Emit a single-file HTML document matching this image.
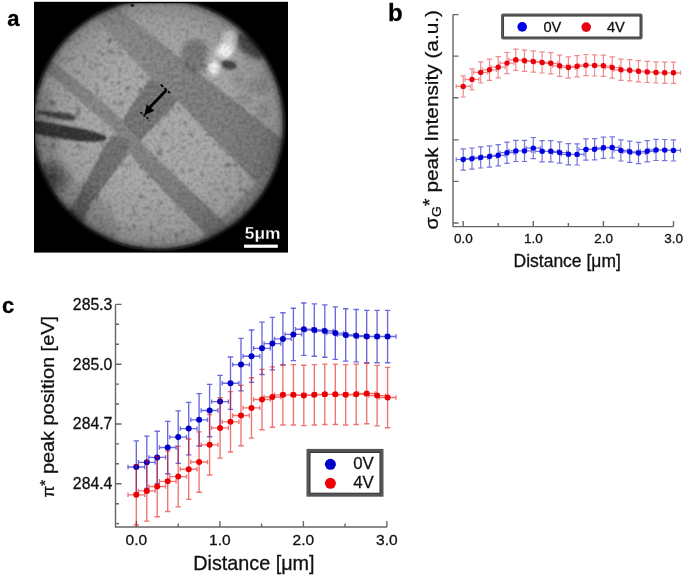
<!DOCTYPE html>
<html><head><meta charset="utf-8"><style>
html,body{margin:0;padding:0;background:#fff;width:685px;height:577px;overflow:hidden}
svg{display:block;will-change:transform}
text{font-family:"Liberation Sans",sans-serif;stroke:#111;stroke-width:0.3px}
</style></head><body>
<svg width="685" height="577" viewBox="0 0 685 577">
<rect width="685" height="577" fill="#fff"/>
<defs>
<clipPath id="sqc"><rect x="35" y="3.2" width="252" height="248.5"/></clipPath>
<filter id="mblur" x="-10%" y="-10%" width="120%" height="120%"><feGaussianBlur stdDeviation="1.4"/></filter>
<mask id="circ" maskUnits="userSpaceOnUse" x="0" y="-10" width="300" height="270"><circle cx="158.4" cy="123.9" r="125.3" fill="#fff" filter="url(#mblur)"/></mask>
<radialGradient id="vig" cx="158.4" cy="123.9" r="126" gradientUnits="userSpaceOnUse">
<stop offset="0.5" stop-color="#000" stop-opacity="0"/>
<stop offset="0.82" stop-color="#000" stop-opacity="0.08"/>
<stop offset="0.94" stop-color="#000" stop-opacity="0.18"/>
<stop offset="0.985" stop-color="#000" stop-opacity="0.4"/>
<stop offset="1" stop-color="#000" stop-opacity="0.6"/>
</radialGradient>
<radialGradient id="glare" cx="0.5" cy="0.5" r="0.5">
<stop offset="0" stop-color="#fff" stop-opacity="1"/>
<stop offset="0.5" stop-color="#fff" stop-opacity="0.85"/>
<stop offset="1" stop-color="#fff" stop-opacity="0"/>
</radialGradient>
<radialGradient id="dblob" cx="0.5" cy="0.5" r="0.5">
<stop offset="0" stop-color="#000" stop-opacity="0.5"/>
<stop offset="0.6" stop-color="#000" stop-opacity="0.3"/>
<stop offset="1" stop-color="#000" stop-opacity="0"/>
</radialGradient>
<linearGradient id="bugrad" x1="100" y1="5" x2="190" y2="95" gradientUnits="userSpaceOnUse">
<stop offset="0" stop-color="#979797"/><stop offset="0.6" stop-color="#848484"/><stop offset="1" stop-color="#7c7c7c"/>
</linearGradient>
<linearGradient id="blgrad" x1="40" y1="50" x2="220" y2="220" gradientUnits="userSpaceOnUse">
<stop offset="0" stop-color="#878787"/><stop offset="0.5" stop-color="#828282"/><stop offset="1" stop-color="#767676"/>
</linearGradient>
<filter id="bl1" x="-20%" y="-20%" width="140%" height="140%"><feGaussianBlur stdDeviation="1.3"/></filter>
<filter id="bl2" x="-50%" y="-50%" width="200%" height="200%"><feGaussianBlur stdDeviation="3"/></filter>
<filter id="bl3" x="-50%" y="-50%" width="200%" height="200%"><feGaussianBlur stdDeviation="2"/></filter>
<filter id="grain" x="0" y="0" width="100%" height="100%">
<feTurbulence type="fractalNoise" baseFrequency="0.28" numOctaves="2" seed="5"/>
<feColorMatrix type="matrix" values="0 0 0 0 0  0 0 0 0 0  0 0 0 0 0  -3 0 0 0 1.5"/><feGaussianBlur stdDeviation="0.7"/>
</filter>
<filter id="grainw" x="0" y="0" width="100%" height="100%">
<feTurbulence type="fractalNoise" baseFrequency="0.28" numOctaves="2" seed="5"/>
<feColorMatrix type="matrix" values="0 0 0 0 1  0 0 0 0 1  0 0 0 0 1  3 0 0 0 -1.5"/><feGaussianBlur stdDeviation="0.7"/>
</filter>
<filter id="speck" x="0" y="0" width="100%" height="100%">
<feTurbulence type="fractalNoise" baseFrequency="0.16" numOctaves="2" seed="11" result="t"/>
<feColorMatrix in="t" type="matrix" values="0 0 0 0 0  0 0 0 0 0  0 0 0 0 0  -7 0 0 0 2.5" result="a"/>
<feComponentTransfer in="a"><feFuncA type="linear" slope="1" intercept="0"/></feComponentTransfer>
<feGaussianBlur stdDeviation="0.9"/>
</filter>
</defs>
<rect x="34" y="1.8" width="254" height="250.8" fill="#000"/>
<g clip-path="url(#sqc)"><g mask="url(#circ)">
<rect x="30" y="0" width="260" height="252" fill="#a5a5a5"/>
<!-- speckles in light areas (drawn before bands so bands cover them) -->
<rect x="34" y="2" width="254" height="250" filter="url(#speck)" opacity="0.3"/>
<g filter="url(#bl1)">
<!-- T region (above BU) -->
<polygon points="118,8 283.5,140 300,150 300,-5 118,-5" fill="#a6a6a6"/>
<!-- BU band -->
<polygon points="85,-5 110,-5 118,8 283.5,140 300,152 300,240 266,193 177.6,101.1 150.8,77.7 130,56 106.3,29.2 95,16" fill="url(#bugrad)"/>
<!-- U2 end band -->
<polygon points="278,161 200,239.5 260,300 330,230" fill="#8a8a8a"/>
<!-- BL band -->
<polygon points="25,42 58.8,66 110,107.5 122,120 135,133 145.7,147.6 222,220.1 265,260 240,260 206.7,235.3 140,166.7 125,146 110.5,127.3 48.6,73.5 25,55" fill="url(#blgrad)"/>
<!-- dark rect -->
<polygon points="150.8,77.7 177.6,101.1 167.9,112 150,130.4 140,141 124,124 122.5,120.4 133,103.3" fill="#727272"/>
<!-- U1 band -->
<polygon points="103.7,147.3 112,135 130,140 126.3,156 91.6,202.8 75,240 45,240 74.3,202.8" fill="#6e6e6e"/>
</g>
<!-- lower-left dark zone -->
<ellipse cx="54" cy="176" rx="19" ry="18" fill="url(#dblob)" filter="url(#bl2)"/>
<ellipse cx="45" cy="150" rx="14" ry="60" fill="#000" opacity="0.12" filter="url(#bl2)"/>
<ellipse cx="50" cy="225" rx="30" ry="20" fill="#000" opacity="0.18" filter="url(#bl2)"/>
<!-- T region blobs -->
<ellipse cx="196" cy="56" rx="14" ry="17" transform="rotate(-20 196 56)" fill="#000" opacity="0.27" filter="url(#bl3)"/>
<ellipse cx="250" cy="46" rx="17" ry="9" transform="rotate(40 250 46)" fill="#000" opacity="0.5" filter="url(#bl3)"/>
<ellipse cx="229" cy="65" rx="8" ry="4.5" transform="rotate(15 229 65)" fill="#000" opacity="0.55" filter="url(#bl1)"/>
<ellipse cx="258" cy="86" rx="12" ry="9" fill="#000" opacity="0.12" filter="url(#bl3)"/>
<ellipse cx="244" cy="100" rx="9" ry="7" fill="#000" opacity="0.1" filter="url(#bl3)"/>
<ellipse cx="262" cy="112" rx="7" ry="10" fill="#000" opacity="0.1" filter="url(#bl3)"/>
<ellipse cx="240" cy="80" rx="6" ry="8" fill="#000" opacity="0.1" filter="url(#bl3)"/>
<ellipse cx="270" cy="70" rx="6" ry="9" fill="#000" opacity="0.08" filter="url(#bl3)"/>
<!-- glare -->
<ellipse cx="229" cy="40" rx="11" ry="14" fill="url(#glare)" opacity="0.5"/>
<ellipse cx="225" cy="51" rx="8.5" ry="7.5" fill="#fff" filter="url(#bl3)"/>
<ellipse cx="226" cy="50" rx="5" ry="4.5" fill="#fff" filter="url(#bl1)"/>
<ellipse cx="231" cy="39" rx="6" ry="9" fill="#fff" opacity="0.35" filter="url(#bl3)"/>
<ellipse cx="214" cy="68" rx="5" ry="7" fill="#fff" opacity="0.95" filter="url(#bl3)"/>
<ellipse cx="212" cy="60" rx="10" ry="14" fill="url(#glare)" opacity="0.25"/>
<!-- lower-left edge shading -->
<ellipse cx="75" cy="215" rx="48" ry="30" transform="rotate(40 75 215)" fill="#000" opacity="0.12" filter="url(#bl2)"/>
<!-- probe -->
<g filter="url(#bl1)">
<path d="M37 110.6 Q55 111.5 68 113.6 Q76.5 115.5 76 118.3 Q74.5 120.6 68 120.4 Q55 118.8 37 113.8 Z" fill="#454545"/>
<path d="M25 120 L34 120.6 Q60 124.5 85 129.5 Q102 133.5 106.5 137.5 Q107 140.5 100 141.6 Q80 142.5 60 138.6 Q45 136 34 133.5 L25 132 Z" fill="#353535"/>
</g>
<!-- grain -->
<rect x="34" y="2" width="254" height="250" filter="url(#grain)" opacity="0.13"/>
<rect x="34" y="2" width="254" height="250" filter="url(#grainw)" opacity="0.1"/>
<circle cx="158.4" cy="123.9" r="126" fill="url(#vig)"/>
<circle cx="132.3" cy="5.3" r="1.8" fill="#222"/>
</g></g>
<!-- arrow -->
<g stroke="#000" fill="none">
<path d="M160.7 84.5 L170 93.2" stroke-width="1.8" stroke-dasharray="3.5 1.5"/>
<path d="M140.4 112.3 L150.3 120.5" stroke-width="1.4" stroke-dasharray="2.5 1.5"/>
<path d="M166 90.6 L149.2 108" stroke-width="2.9"/>
</g>
<polygon points="144.3,115.3 146.6,104.6 154.5,110.8" fill="#000"/>
<!-- scale bar -->
<text x="244.8" y="238.6" font-size="17.4" font-weight="bold" fill="#fff" stroke="#fff" stroke-width="0.2">5μm</text>
<rect x="244" y="244.6" width="33.8" height="3.2" fill="#fff"/>

<text x="7.2" y="25.7" font-size="22" font-weight="bold" fill="#000">a</text>
<text x="388" y="21" font-size="24" font-weight="bold" fill="#000">b</text>
<text x="2" y="313.2" font-size="22" font-weight="bold" fill="#000">c</text>
<path d="M453 14.6V226.6H673.5M453 14.6H458.5M453 56.1H458.5M453 97.7H458.5M453 139.9H458.5M453 181.4H458.5M453 223.0H458.5M463.2 226.6V221.1M498.2 226.6V223.1M533.3 226.6V221.1M568.4 226.6V223.1M603.4 226.6V221.1M638.5 226.6V223.1M673.5 226.6V221.1" fill="none" stroke="#666" stroke-width="1.4"/>
<text x="463.4" y="242.6" font-size="13.5" text-anchor="middle" fill="#111">0.0</text>
<text x="533.5" y="242.6" font-size="13.5" text-anchor="middle" fill="#111">1.0</text>
<text x="603.6" y="242.6" font-size="13.5" text-anchor="middle" fill="#111">2.0</text>
<text x="673.7" y="242.6" font-size="13.5" text-anchor="middle" fill="#111">3.0</text>
<text x="567.2" y="267" font-size="17.5" text-anchor="middle" fill="#111">Distance [μm]</text>
<text transform="translate(437.6 229.4) rotate(-90) scale(1 0.91)" font-size="20" fill="#111">σ<tspan font-size="14" dy="4">G</tspan><tspan font-size="20" dy="-5.5">*</tspan><tspan font-size="20.8" dy="1.5"> peak Intensity (a.u.)</tspan></text>
<path d="M463.2 75.8V97.0M460.5 75.8H465.9M460.5 97.0H465.9M456.2 86.4H470.2M456.2 84.2V88.6M470.2 84.2V88.6M472.0 68.8V90.0M469.3 68.8H474.7M469.3 90.0H474.7M465.0 79.4H479.0M465.0 77.2V81.6M479.0 77.2V81.6M480.7 61.8V83.0M478.0 61.8H483.4M478.0 83.0H483.4M473.7 72.4H487.7M473.7 70.2V74.6M487.7 70.2V74.6M489.5 59.2V80.4M486.8 59.2H492.2M486.8 80.4H492.2M482.5 69.8H496.5M482.5 67.6V72.0M496.5 67.6V72.0M498.2 56.6V77.8M495.6 56.6H500.9M495.6 77.8H500.9M491.2 67.2H505.2M491.2 65.0V69.4M505.2 65.0V69.4M507.0 52.5V73.7M504.3 52.5H509.7M504.3 73.7H509.7M500.0 63.1H514.0M500.0 60.9V65.3M514.0 60.9V65.3M515.8 49.2V70.4M513.1 49.2H518.5M513.1 70.4H518.5M508.8 59.8H522.8M508.8 57.6V62.0M522.8 57.6V62.0M524.5 50.1V71.3M521.8 50.1H527.2M521.8 71.3H527.2M517.5 60.7H531.5M517.5 58.5V62.9M531.5 58.5V62.9M533.3 50.9V72.1M530.6 50.9H536.0M530.6 72.1H536.0M526.3 61.5H540.3M526.3 59.3V63.7M540.3 59.3V63.7M542.1 51.8V73.0M539.4 51.8H544.8M539.4 73.0H544.8M535.1 62.4H549.1M535.1 60.2V64.6M549.1 60.2V64.6M550.8 52.7V73.9M548.1 52.7H553.5M548.1 73.9H553.5M543.8 63.3H557.8M543.8 61.1V65.5M557.8 61.1V65.5M559.6 55.2V76.4M556.9 55.2H562.3M556.9 76.4H562.3M552.6 65.8H566.6M552.6 63.6V68.0M566.6 63.6V68.0M568.4 56.9V78.1M565.6 56.9H571.1M565.6 78.1H571.1M561.4 67.5H575.4M561.4 65.3V69.7M575.4 65.3V69.7M577.1 55.7V76.9M574.4 55.7H579.8M574.4 76.9H579.8M570.1 66.3H584.1M570.1 64.1V68.5M584.1 64.1V68.5M585.9 54.5V75.7M583.2 54.5H588.6M583.2 75.7H588.6M578.9 65.1H592.9M578.9 62.9V67.3M592.9 62.9V67.3M594.6 54.8V76.0M591.9 54.8H597.3M591.9 76.0H597.3M587.6 65.4H601.6M587.6 63.2V67.6M601.6 63.2V67.6M603.4 55.2V76.4M600.7 55.2H606.1M600.7 76.4H606.1M596.4 65.8H610.4M596.4 63.6V68.0M610.4 63.6V68.0M612.2 56.9V78.1M609.5 56.9H614.9M609.5 78.1H614.9M605.2 67.5H619.2M605.2 65.3V69.7M619.2 65.3V69.7M620.9 59.2V80.4M618.2 59.2H623.6M618.2 80.4H623.6M613.9 69.8H627.9M613.9 67.6V72.0M627.9 67.6V72.0M629.7 59.7V80.9M627.0 59.7H632.4M627.0 80.9H632.4M622.7 70.3H636.7M622.7 68.1V72.5M636.7 68.1V72.5M638.5 60.6V81.8M635.8 60.6H641.2M635.8 81.8H641.2M631.5 71.2H645.5M631.5 69.0V73.4M645.5 69.0V73.4M647.2 61.3V82.5M644.5 61.3H649.9M644.5 82.5H649.9M640.2 71.9H654.2M640.2 69.7V74.1M654.2 69.7V74.1M656.0 61.8V83.0M653.3 61.8H658.7M653.3 83.0H658.7M649.0 72.4H663.0M649.0 70.2V74.6M663.0 70.2V74.6M664.7 62.2V83.4M662.0 62.2H667.4M662.0 83.4H667.4M657.7 72.8H671.7M657.7 70.6V75.0M671.7 70.6V75.0M673.5 62.2V83.4M670.8 62.2H676.2M670.8 83.4H676.2M666.5 72.8H680.5M666.5 70.6V75.0M680.5 70.6V75.0" fill="none" stroke="#f08a8e" stroke-opacity="1" stroke-width="1.2"/>
<circle cx="463.2" cy="86.4" r="2.7" fill="#ea000c"/>
<circle cx="472.0" cy="79.4" r="2.7" fill="#ea000c"/>
<circle cx="480.7" cy="72.4" r="2.7" fill="#ea000c"/>
<circle cx="489.5" cy="69.8" r="2.7" fill="#ea000c"/>
<circle cx="498.2" cy="67.2" r="2.7" fill="#ea000c"/>
<circle cx="507.0" cy="63.1" r="2.7" fill="#ea000c"/>
<circle cx="515.8" cy="59.8" r="2.7" fill="#ea000c"/>
<circle cx="524.5" cy="60.7" r="2.7" fill="#ea000c"/>
<circle cx="533.3" cy="61.5" r="2.7" fill="#ea000c"/>
<circle cx="542.1" cy="62.4" r="2.7" fill="#ea000c"/>
<circle cx="550.8" cy="63.3" r="2.7" fill="#ea000c"/>
<circle cx="559.6" cy="65.8" r="2.7" fill="#ea000c"/>
<circle cx="568.4" cy="67.5" r="2.7" fill="#ea000c"/>
<circle cx="577.1" cy="66.3" r="2.7" fill="#ea000c"/>
<circle cx="585.9" cy="65.1" r="2.7" fill="#ea000c"/>
<circle cx="594.6" cy="65.4" r="2.7" fill="#ea000c"/>
<circle cx="603.4" cy="65.8" r="2.7" fill="#ea000c"/>
<circle cx="612.2" cy="67.5" r="2.7" fill="#ea000c"/>
<circle cx="620.9" cy="69.8" r="2.7" fill="#ea000c"/>
<circle cx="629.7" cy="70.3" r="2.7" fill="#ea000c"/>
<circle cx="638.5" cy="71.2" r="2.7" fill="#ea000c"/>
<circle cx="647.2" cy="71.9" r="2.7" fill="#ea000c"/>
<circle cx="656.0" cy="72.4" r="2.7" fill="#ea000c"/>
<circle cx="664.7" cy="72.8" r="2.7" fill="#ea000c"/>
<circle cx="673.5" cy="72.8" r="2.7" fill="#ea000c"/>
<path d="M463.2 148.9V170.1M460.5 148.9H465.9M460.5 170.1H465.9M456.2 159.5H470.2M456.2 157.3V161.7M470.2 157.3V161.7M472.0 148.0V169.2M469.3 148.0H474.7M469.3 169.2H474.7M465.0 158.6H479.0M465.0 156.4V160.8M479.0 156.4V160.8M480.7 146.8V168.0M478.0 146.8H483.4M478.0 168.0H483.4M473.7 157.4H487.7M473.7 155.2V159.6M487.7 155.2V159.6M489.5 145.9V167.1M486.8 145.9H492.2M486.8 167.1H492.2M482.5 156.5H496.5M482.5 154.3V158.7M496.5 154.3V158.7M498.2 144.7V165.9M495.6 144.7H500.9M495.6 165.9H500.9M491.2 155.3H505.2M491.2 153.1V157.5M505.2 153.1V157.5M507.0 142.1V163.3M504.3 142.1H509.7M504.3 163.3H509.7M500.0 152.7H514.0M500.0 150.5V154.9M514.0 150.5V154.9M515.8 140.3V161.5M513.1 140.3H518.5M513.1 161.5H518.5M508.8 150.9H522.8M508.8 148.7V153.1M522.8 148.7V153.1M524.5 140.3V161.5M521.8 140.3H527.2M521.8 161.5H527.2M517.5 150.9H531.5M517.5 148.7V153.1M531.5 148.7V153.1M533.3 137.5V158.7M530.6 137.5H536.0M530.6 158.7H536.0M526.3 148.1H540.3M526.3 145.9V150.3M540.3 145.9V150.3M542.1 140.7V161.9M539.4 140.7H544.8M539.4 161.9H544.8M535.1 151.3H549.1M535.1 149.1V153.5M549.1 149.1V153.5M550.8 140.7V161.9M548.1 140.7H553.5M548.1 161.9H553.5M543.8 151.3H557.8M543.8 149.1V153.5M557.8 149.1V153.5M559.6 141.9V163.1M556.9 141.9H562.3M556.9 163.1H562.3M552.6 152.5H566.6M552.6 150.3V154.7M566.6 150.3V154.7M568.4 143.7V164.9M565.6 143.7H571.1M565.6 164.9H571.1M561.4 154.3H575.4M561.4 152.1V156.5M575.4 152.1V156.5M577.1 143.8V165.0M574.4 143.8H579.8M574.4 165.0H579.8M570.1 154.4H584.1M570.1 152.2V156.6M584.1 152.2V156.6M585.9 138.9V160.1M583.2 138.9H588.6M583.2 160.1H588.6M578.9 149.5H592.9M578.9 147.3V151.7M592.9 147.3V151.7M594.6 138.6V159.8M591.9 138.6H597.3M591.9 159.8H597.3M587.6 149.2H601.6M587.6 147.0V151.4M601.6 147.0V151.4M603.4 137.2V158.4M600.7 137.2H606.1M600.7 158.4H606.1M596.4 147.8H610.4M596.4 145.6V150.0M610.4 145.6V150.0M612.2 136.8V158.0M609.5 136.8H614.9M609.5 158.0H614.9M605.2 147.4H619.2M605.2 145.2V149.6M619.2 145.2V149.6M620.9 139.8V161.0M618.2 139.8H623.6M618.2 161.0H623.6M613.9 150.4H627.9M613.9 148.2V152.6M627.9 148.2V152.6M629.7 141.2V162.4M627.0 141.2H632.4M627.0 162.4H632.4M622.7 151.8H636.7M622.7 149.6V154.0M636.7 149.6V154.0M638.5 142.4V163.6M635.8 142.4H641.2M635.8 163.6H641.2M631.5 153.0H645.5M631.5 150.8V155.2M645.5 150.8V155.2M647.2 140.7V161.9M644.5 140.7H649.9M644.5 161.9H649.9M640.2 151.3H654.2M640.2 149.1V153.5M654.2 149.1V153.5M656.0 139.3V160.5M653.3 139.3H658.7M653.3 160.5H658.7M649.0 149.9H663.0M649.0 147.7V152.1M663.0 147.7V152.1M664.7 139.5V160.7M662.0 139.5H667.4M662.0 160.7H667.4M657.7 150.1H671.7M657.7 147.9V152.3M671.7 147.9V152.3M673.5 139.8V161.0M670.8 139.8H676.2M670.8 161.0H676.2M666.5 150.4H680.5M666.5 148.2V152.6M680.5 148.2V152.6" fill="none" stroke="#7474dc" stroke-opacity="1" stroke-width="1.2"/>
<circle cx="463.2" cy="159.5" r="2.7" fill="#0000e4"/>
<circle cx="472.0" cy="158.6" r="2.7" fill="#0000e4"/>
<circle cx="480.7" cy="157.4" r="2.7" fill="#0000e4"/>
<circle cx="489.5" cy="156.5" r="2.7" fill="#0000e4"/>
<circle cx="498.2" cy="155.3" r="2.7" fill="#0000e4"/>
<circle cx="507.0" cy="152.7" r="2.7" fill="#0000e4"/>
<circle cx="515.8" cy="150.9" r="2.7" fill="#0000e4"/>
<circle cx="524.5" cy="150.9" r="2.7" fill="#0000e4"/>
<circle cx="533.3" cy="148.1" r="2.7" fill="#0000e4"/>
<circle cx="542.1" cy="151.3" r="2.7" fill="#0000e4"/>
<circle cx="550.8" cy="151.3" r="2.7" fill="#0000e4"/>
<circle cx="559.6" cy="152.5" r="2.7" fill="#0000e4"/>
<circle cx="568.4" cy="154.3" r="2.7" fill="#0000e4"/>
<circle cx="577.1" cy="154.4" r="2.7" fill="#0000e4"/>
<circle cx="585.9" cy="149.5" r="2.7" fill="#0000e4"/>
<circle cx="594.6" cy="149.2" r="2.7" fill="#0000e4"/>
<circle cx="603.4" cy="147.8" r="2.7" fill="#0000e4"/>
<circle cx="612.2" cy="147.4" r="2.7" fill="#0000e4"/>
<circle cx="620.9" cy="150.4" r="2.7" fill="#0000e4"/>
<circle cx="629.7" cy="151.8" r="2.7" fill="#0000e4"/>
<circle cx="638.5" cy="153.0" r="2.7" fill="#0000e4"/>
<circle cx="647.2" cy="151.3" r="2.7" fill="#0000e4"/>
<circle cx="656.0" cy="149.9" r="2.7" fill="#0000e4"/>
<circle cx="664.7" cy="150.1" r="2.7" fill="#0000e4"/>
<circle cx="673.5" cy="150.4" r="2.7" fill="#0000e4"/>
<rect x="502.3" y="14.8" width="139" height="23.5" rx="0.8" fill="#fff" stroke="#5a5a5a" stroke-width="2.6"/>
<rect x="503.6" y="16.1" width="136.4" height="20.9" fill="none" stroke="#333" stroke-width="0.9"/>
<circle cx="522.2" cy="26.9" r="4.8" fill="#0000e6"/><circle cx="586.2" cy="27.1" r="4.8" fill="#e60012"/>
<text x="543.4" y="31.7" font-size="14.6" fill="#111">0V</text><text x="607" y="31.7" font-size="14.6" fill="#111">4V</text>
<path d="M115.5 304.4V527H387M115.5 304.4H121.5M115.5 324.3H119.0M115.5 344.3H119.0M115.5 364.2H121.5M115.5 384.1H119.0M115.5 404.0H119.0M115.5 424.0H121.5M115.5 443.9H119.0M115.5 463.8H119.0M115.5 483.8H121.5M115.5 503.7H119.0M115.5 523.6H119.0M136.4 527V521M178.2 527V523.5M219.9 527V521M261.6 527V523.5M303.4 527V521M345.1 527V523.5M386.9 527V521" fill="none" stroke="#666" stroke-width="1.4"/>
<text x="112.4" y="309.7" font-size="15.8" text-anchor="end" fill="#111">285.3</text>
<text x="112.4" y="369.5" font-size="15.8" text-anchor="end" fill="#111">285.0</text>
<text x="112.4" y="429.3" font-size="15.8" text-anchor="end" fill="#111">284.7</text>
<text x="112.4" y="489.1" font-size="15.8" text-anchor="end" fill="#111">284.4</text>
<text x="136.4" y="544.8" font-size="15.5" text-anchor="middle" fill="#111">0.0</text>
<text x="219.9" y="544.8" font-size="15.5" text-anchor="middle" fill="#111">1.0</text>
<text x="303.4" y="544.8" font-size="15.5" text-anchor="middle" fill="#111">2.0</text>
<text x="386.9" y="544.8" font-size="15.5" text-anchor="middle" fill="#111">3.0</text>
<text x="253.9" y="570.2" font-size="19.8" text-anchor="middle" fill="#111">Distance [μm]</text>
<text transform="translate(54.3 497.6) rotate(-90) scale(1 0.92)" font-size="17" fill="#111">π<tspan font-size="16" dy="-5">*</tspan><tspan font-size="19.9" dy="5"> peak position [eV]</tspan></text>
<path d="M136.3 440.8V493.2M133.6 440.8H139.0M133.6 493.2H139.0M128.0 467.0H144.7M128.0 464.8V469.2M144.7 464.8V469.2M146.8 436.1V488.5M144.1 436.1H149.5M144.1 488.5H149.5M138.4 462.3H155.1M138.4 460.1V464.5M155.1 460.1V464.5M157.2 431.2V483.6M154.5 431.2H159.9M154.5 483.6H159.9M148.9 457.4H165.6M148.9 455.2V459.6M165.6 455.2V459.6M167.7 421.3V473.7M165.0 421.3H170.4M165.0 473.7H170.4M159.4 447.5H176.1M159.4 445.3V449.7M176.1 445.3V449.7M178.2 410.9V463.3M175.5 410.9H180.9M175.5 463.3H180.9M169.8 437.1H186.5M169.8 434.9V439.3M186.5 434.9V439.3M188.7 402.4V454.8M186.0 402.4H191.4M186.0 454.8H191.4M180.3 428.6H197.0M180.3 426.4V430.8M197.0 426.4V430.8M199.1 393.6V446.0M196.4 393.6H201.8M196.4 446.0H201.8M190.8 419.8H207.5M190.8 417.6V422.0M207.5 417.6V422.0M209.6 384.3V436.7M206.9 384.3H212.3M206.9 436.7H212.3M201.2 410.5H217.9M201.2 408.3V412.7M217.9 408.3V412.7M220.1 375.4V427.8M217.4 375.4H222.8M217.4 427.8H222.8M211.7 401.6H228.4M211.7 399.4V403.8M228.4 399.4V403.8M230.5 357.0V409.4M227.8 357.0H233.2M227.8 409.4H233.2M222.2 383.2H238.9M222.2 381.0V385.4M238.9 381.0V385.4M241.0 338.4V390.8M238.3 338.4H243.7M238.3 390.8H243.7M232.7 364.6H249.4M232.7 362.4V366.8M249.4 362.4V366.8M251.5 330.0V382.4M248.8 330.0H254.2M248.8 382.4H254.2M243.1 356.2H259.8M243.1 354.0V358.4M259.8 354.0V358.4M262.0 322.1V374.5M259.3 322.1H264.7M259.3 374.5H264.7M253.6 348.3H270.3M253.6 346.1V350.5M270.3 346.1V350.5M272.4 317.4V369.8M269.7 317.4H275.1M269.7 369.8H275.1M264.1 343.6H280.8M264.1 341.4V345.8M280.8 341.4V345.8M282.9 312.7V365.1M280.2 312.7H285.6M280.2 365.1H285.6M274.5 338.9H291.2M274.5 336.7V341.1M291.2 336.7V341.1M293.4 308.2V360.6M290.7 308.2H296.1M290.7 360.6H296.1M285.0 334.4H301.7M285.0 332.2V336.6M301.7 332.2V336.6M303.8 303.0V355.4M301.1 303.0H306.5M301.1 355.4H306.5M295.5 329.2H312.2M295.5 327.0V331.4M312.2 327.0V331.4M314.3 303.8V356.2M311.6 303.8H317.0M311.6 356.2H317.0M306.0 330.0H322.7M306.0 327.8V332.2M322.7 327.8V332.2M324.8 304.8V357.2M322.1 304.8H327.5M322.1 357.2H327.5M316.4 331.0H333.1M316.4 328.8V333.2M333.1 328.8V333.2M335.3 306.9V359.3M332.6 306.9H338.0M332.6 359.3H338.0M326.9 333.1H343.6M326.9 330.9V335.3M343.6 330.9V335.3M345.7 308.7V361.1M343.0 308.7H348.4M343.0 361.1H348.4M337.4 334.9H354.1M337.4 332.7V337.1M354.1 332.7V337.1M356.2 309.5V361.9M353.5 309.5H358.9M353.5 361.9H358.9M347.8 335.7H364.5M347.8 333.5V337.9M364.5 333.5V337.9M366.7 310.3V362.7M364.0 310.3H369.4M364.0 362.7H369.4M358.3 336.5H375.0M358.3 334.3V338.7M375.0 334.3V338.7M377.1 310.3V362.7M374.4 310.3H379.8M374.4 362.7H379.8M368.8 336.5H385.5M368.8 334.3V338.7M385.5 334.3V338.7M387.6 310.3V362.7M384.9 310.3H390.3M384.9 362.7H390.3M379.3 336.5H396.0M379.3 334.3V338.7M396.0 334.3V338.7" fill="none" stroke="#1a1ad0" stroke-opacity="0.65" stroke-width="1.35"/>
<circle cx="136.3" cy="467.0" r="3.0" fill="#0000c8"/>
<circle cx="146.8" cy="462.3" r="3.0" fill="#0000c8"/>
<circle cx="157.2" cy="457.4" r="3.0" fill="#0000c8"/>
<circle cx="167.7" cy="447.5" r="3.0" fill="#0000c8"/>
<circle cx="178.2" cy="437.1" r="3.0" fill="#0000c8"/>
<circle cx="188.7" cy="428.6" r="3.0" fill="#0000c8"/>
<circle cx="199.1" cy="419.8" r="3.0" fill="#0000c8"/>
<circle cx="209.6" cy="410.5" r="3.0" fill="#0000c8"/>
<circle cx="220.1" cy="401.6" r="3.0" fill="#0000c8"/>
<circle cx="230.5" cy="383.2" r="3.0" fill="#0000c8"/>
<circle cx="241.0" cy="364.6" r="3.0" fill="#0000c8"/>
<circle cx="251.5" cy="356.2" r="3.0" fill="#0000c8"/>
<circle cx="262.0" cy="348.3" r="3.0" fill="#0000c8"/>
<circle cx="272.4" cy="343.6" r="3.0" fill="#0000c8"/>
<circle cx="282.9" cy="338.9" r="3.0" fill="#0000c8"/>
<circle cx="293.4" cy="334.4" r="3.0" fill="#0000c8"/>
<circle cx="303.8" cy="329.2" r="3.0" fill="#0000c8"/>
<circle cx="314.3" cy="330.0" r="3.0" fill="#0000c8"/>
<circle cx="324.8" cy="331.0" r="3.0" fill="#0000c8"/>
<circle cx="335.3" cy="333.1" r="3.0" fill="#0000c8"/>
<circle cx="345.7" cy="334.9" r="3.0" fill="#0000c8"/>
<circle cx="356.2" cy="335.7" r="3.0" fill="#0000c8"/>
<circle cx="366.7" cy="336.5" r="3.0" fill="#0000c8"/>
<circle cx="377.1" cy="336.5" r="3.0" fill="#0000c8"/>
<circle cx="387.6" cy="336.5" r="3.0" fill="#0000c8"/>
<path d="M136.3 464.6V525.0M133.6 464.6H139.0M133.6 525.0H139.0M128.0 494.8H144.7M128.0 492.6V497.0M144.7 492.6V497.0M146.8 460.7V521.1M144.1 460.7H149.5M144.1 521.1H149.5M138.4 490.9H155.1M138.4 488.7V493.1M155.1 488.7V493.1M157.2 456.3V516.7M154.5 456.3H159.9M154.5 516.7H159.9M148.9 486.5H165.6M148.9 484.3V488.7M165.6 484.3V488.7M167.7 451.1V511.5M165.0 451.1H170.4M165.0 511.5H170.4M159.4 481.3H176.1M159.4 479.1V483.5M176.1 479.1V483.5M178.2 446.4V506.8M175.5 446.4H180.9M175.5 506.8H180.9M169.8 476.6H186.5M169.8 474.4V478.8M186.5 474.4V478.8M188.7 439.0V499.4M186.0 439.0H191.4M186.0 499.4H191.4M180.3 469.2H197.0M180.3 467.0V471.4M197.0 467.0V471.4M199.1 431.8V492.2M196.4 431.8H201.8M196.4 492.2H201.8M190.8 462.0H207.5M190.8 459.8V464.2M207.5 459.8V464.2M209.6 414.6V475.0M206.9 414.6H212.3M206.9 475.0H212.3M201.2 444.8H217.9M201.2 442.6V447.0M217.9 442.6V447.0M220.1 397.7V458.1M217.4 397.7H222.8M217.4 458.1H222.8M211.7 427.9H228.4M211.7 425.7V430.1M228.4 425.7V430.1M230.5 391.6V452.0M227.8 391.6H233.2M227.8 452.0H233.2M222.2 421.8H238.9M222.2 419.6V424.0M238.9 419.6V424.0M241.0 385.3V445.7M238.3 385.3H243.7M238.3 445.7H243.7M232.7 415.5H249.4M232.7 413.3V417.7M249.4 413.3V417.7M251.5 377.7V438.1M248.8 377.7H254.2M248.8 438.1H254.2M243.1 407.9H259.8M243.1 405.7V410.1M259.8 405.7V410.1M262.0 369.3V429.7M259.3 369.3H264.7M259.3 429.7H264.7M253.6 399.5H270.3M253.6 397.3V401.7M270.3 397.3V401.7M272.4 366.8V427.2M269.7 366.8H275.1M269.7 427.2H275.1M264.1 397.0H280.8M264.1 394.8V399.2M280.8 394.8V399.2M282.9 364.6V425.0M280.2 364.6H285.6M280.2 425.0H285.6M274.5 394.8H291.2M274.5 392.6V397.0M291.2 392.6V397.0M293.4 364.6V425.0M290.7 364.6H296.1M290.7 425.0H296.1M285.0 394.8H301.7M285.0 392.6V397.0M301.7 392.6V397.0M303.8 365.2V425.6M301.1 365.2H306.5M301.1 425.6H306.5M295.5 395.4H312.2M295.5 393.2V397.6M312.2 393.2V397.6M314.3 364.6V425.0M311.6 364.6H317.0M311.6 425.0H317.0M306.0 394.8H322.7M306.0 392.6V397.0M322.7 392.6V397.0M324.8 364.1V424.5M322.1 364.1H327.5M322.1 424.5H327.5M316.4 394.3H333.1M316.4 392.1V396.5M333.1 392.1V396.5M335.3 364.1V424.5M332.6 364.1H338.0M332.6 424.5H338.0M326.9 394.3H343.6M326.9 392.1V396.5M343.6 392.1V396.5M345.7 364.6V425.0M343.0 364.6H348.4M343.0 425.0H348.4M337.4 394.8H354.1M337.4 392.6V397.0M354.1 392.6V397.0M356.2 364.1V424.5M353.5 364.1H358.9M353.5 424.5H358.9M347.8 394.3H364.5M347.8 392.1V396.5M364.5 392.1V396.5M366.7 363.3V423.7M364.0 363.3H369.4M364.0 423.7H369.4M358.3 393.5H375.0M358.3 391.3V395.7M375.0 391.3V395.7M377.1 365.4V425.8M374.4 365.4H379.8M374.4 425.8H379.8M368.8 395.6H385.5M368.8 393.4V397.8M385.5 393.4V397.8M387.6 367.3V427.7M384.9 367.3H390.3M384.9 427.7H390.3M379.3 397.5H396.0M379.3 395.3V399.7M396.0 395.3V399.7" fill="none" stroke="#e00000" stroke-opacity="0.55" stroke-width="1.35"/>
<circle cx="136.3" cy="494.8" r="3.0" fill="#ee0000"/>
<circle cx="146.8" cy="490.9" r="3.0" fill="#ee0000"/>
<circle cx="157.2" cy="486.5" r="3.0" fill="#ee0000"/>
<circle cx="167.7" cy="481.3" r="3.0" fill="#ee0000"/>
<circle cx="178.2" cy="476.6" r="3.0" fill="#ee0000"/>
<circle cx="188.7" cy="469.2" r="3.0" fill="#ee0000"/>
<circle cx="199.1" cy="462.0" r="3.0" fill="#ee0000"/>
<circle cx="209.6" cy="444.8" r="3.0" fill="#ee0000"/>
<circle cx="220.1" cy="427.9" r="3.0" fill="#ee0000"/>
<circle cx="230.5" cy="421.8" r="3.0" fill="#ee0000"/>
<circle cx="241.0" cy="415.5" r="3.0" fill="#ee0000"/>
<circle cx="251.5" cy="407.9" r="3.0" fill="#ee0000"/>
<circle cx="262.0" cy="399.5" r="3.0" fill="#ee0000"/>
<circle cx="272.4" cy="397.0" r="3.0" fill="#ee0000"/>
<circle cx="282.9" cy="394.8" r="3.0" fill="#ee0000"/>
<circle cx="293.4" cy="394.8" r="3.0" fill="#ee0000"/>
<circle cx="303.8" cy="395.4" r="3.0" fill="#ee0000"/>
<circle cx="314.3" cy="394.8" r="3.0" fill="#ee0000"/>
<circle cx="324.8" cy="394.3" r="3.0" fill="#ee0000"/>
<circle cx="335.3" cy="394.3" r="3.0" fill="#ee0000"/>
<circle cx="345.7" cy="394.8" r="3.0" fill="#ee0000"/>
<circle cx="356.2" cy="394.3" r="3.0" fill="#ee0000"/>
<circle cx="366.7" cy="393.5" r="3.0" fill="#ee0000"/>
<circle cx="377.1" cy="395.6" r="3.0" fill="#ee0000"/>
<circle cx="387.6" cy="397.5" r="3.0" fill="#ee0000"/>
<rect x="308.2" y="450.6" width="73.6" height="44.4" fill="#fff" stroke="#555" stroke-width="3.4"/>
<rect x="310" y="452.4" width="70" height="40.8" fill="none" stroke="#2a2a2a" stroke-width="1"/>
<circle cx="330.4" cy="464.3" r="5.5" fill="#0000c8"/><circle cx="330.4" cy="483.3" r="5.5" fill="#f00000"/>
<text x="353.2" y="469.3" font-size="16.8" fill="#111">0V</text><text x="353.2" y="487.7" font-size="16.8" fill="#111">4V</text>
</svg></body></html>
